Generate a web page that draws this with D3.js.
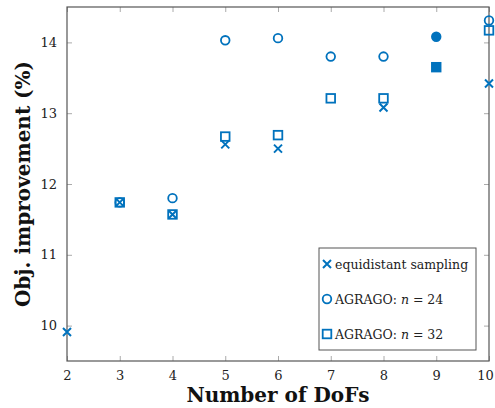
<!DOCTYPE html>
<html><head><meta charset="utf-8">
<script src="https://cdn.jsdelivr.net/npm/d3@7"></script>
<style>body{margin:0;background:#fff}svg{display:block}</style>
</head><body>
<script>
const dofs = [2,3,4,5,6,7,8,9,10];
const equidistant = [[2,9.91],[3,11.74],[4,11.57],[5,12.56],[6,12.50],[8,13.08],[10,13.42]];
const agrago24 = [[3,11.74],[4,11.80],[5,14.03],[6,14.06],[7,13.80],[8,13.80],[9,14.08],[10,14.31]];
const agrago32 = [[3,11.74],[4,11.57],[5,12.67],[6,12.69],[7,13.21],[8,13.21],[9,13.65],[10,14.17]];
const filledAt = [9];
const yTicks = [10,11,12,13,14];
const color = "#0072bd";

const W=495,H=408, m={l:67,r:6,t:7,b:47};
const svg=d3.select("body").append("svg").attr("width",W).attr("height",H);
const x=d3.scaleLinear().domain([2,10]).range([m.l,W-m.r]);
const y=d3.scaleLinear().domain([9.5,14.5]).range([H-m.b,m.t]);
const font="'DejaVu Serif', serif";
const axCol="#555";

const g=svg.append("g");
function axisStyle(sel){
  sel.select(".domain").remove();
  sel.selectAll(".tick line").attr("stroke","#aaa");
  sel.selectAll(".tick text").attr("font-family",font).attr("font-size",13).attr("fill","#222");
}
const xb=g.append("g").attr("transform",`translate(0,${H-m.b})`).call(d3.axisBottom(x).tickValues(dofs).tickFormat(d3.format("d")).tickSizeInner(-5).tickSizeOuter(0).tickPadding(10)).call(axisStyle);
xb.selectAll(".tick text").filter(d=>d===10).attr("dx",-4);
g.append("g").attr("transform",`translate(0,${m.t})`).call(d3.axisTop(x).tickValues(dofs).tickSizeInner(-5).tickSizeOuter(0).tickFormat("")).call(axisStyle);
g.append("g").attr("transform",`translate(${m.l},0)`).call(d3.axisLeft(y).tickValues(yTicks).tickFormat(d3.format("d")).tickSizeInner(-5).tickSizeOuter(0).tickPadding(10)).call(axisStyle);
g.append("g").attr("transform",`translate(${W-m.r},0)`).call(d3.axisRight(y).tickValues(yTicks).tickSizeInner(-5).tickSizeOuter(0).tickFormat("")).call(axisStyle);
svg.append("rect").attr("x",m.l).attr("y",m.t).attr("width",W-m.r-m.l).attr("height",H-m.b-m.t).attr("fill","none").attr("stroke",axCol).attr("stroke-width",1.2);

const pts=svg.append("g");
function cross(sel,cx,cy,s){
  sel.append("path").attr("d",`M${cx-s},${cy-s}L${cx+s},${cy+s}M${cx-s},${cy+s}L${cx+s},${cy-s}`).attr("stroke",color).attr("stroke-width",2).attr("fill","none");
}
function circ(sel,cx,cy,r,filled){
  sel.append("circle").attr("cx",cx).attr("cy",cy).attr("r",r).attr("fill",filled?color:"none").attr("stroke",color).attr("stroke-width",1.8);
}
function sq(sel,cx,cy,s,filled){
  sel.append("rect").attr("x",cx-s).attr("y",cy-s).attr("width",2*s).attr("height",2*s).attr("fill",filled?color:"none").attr("stroke",color).attr("stroke-width",1.8);
}
equidistant.forEach(d=>cross(pts,x(d[0]),y(d[1]),4));
agrago24.forEach(d=>circ(pts,x(d[0]),y(d[1]),4.3,filledAt.includes(d[0])));
agrago32.forEach(d=>sq(pts,x(d[0]),y(d[1]),4.3,filledAt.includes(d[0])));

svg.append("text").attr("x",(m.l+W-m.r)/2).attr("y",402).attr("text-anchor","middle")
  .attr("font-family",font).attr("font-weight","bold").attr("font-size",20).attr("fill","#111").text("Number of DoFs");
svg.append("text").attr("transform",`translate(30,${(m.t+H-m.b)/2}) rotate(-90)`).attr("text-anchor","middle")
  .attr("font-family",font).attr("font-weight","bold").attr("font-size",20).attr("fill","#111").text("Obj. improvement (%)");

const lg=svg.append("g");
lg.append("rect").attr("x",319).attr("y",248).attr("width",157).attr("height",102).attr("fill","#fff").attr("stroke",axCol).attr("stroke-width",1);
const items=[{t:"equidistant sampling",m:"x"},{t:"AGRAGO: ",n:"24",m:"o"},{t:"AGRAGO: ",n:"32",m:"s"}];
items.forEach((it,i)=>{
  const cy=264+i*35;
  if(it.m==="x") cross(lg,327,cy,4); else if(it.m==="o") circ(lg,327,cy,4.3,false); else sq(lg,327,cy,4.3,false);
  const tx=lg.append("text").attr("x",335).attr("y",cy+4.5).attr("font-family",font).attr("font-size",12.5).attr("fill","#222");
  tx.append("tspan").text(it.t);
  if(it.n){ tx.append("tspan").attr("font-style","italic").text("n"); tx.append("tspan").text(" = "+it.n); }
});
</script>
</body></html>
